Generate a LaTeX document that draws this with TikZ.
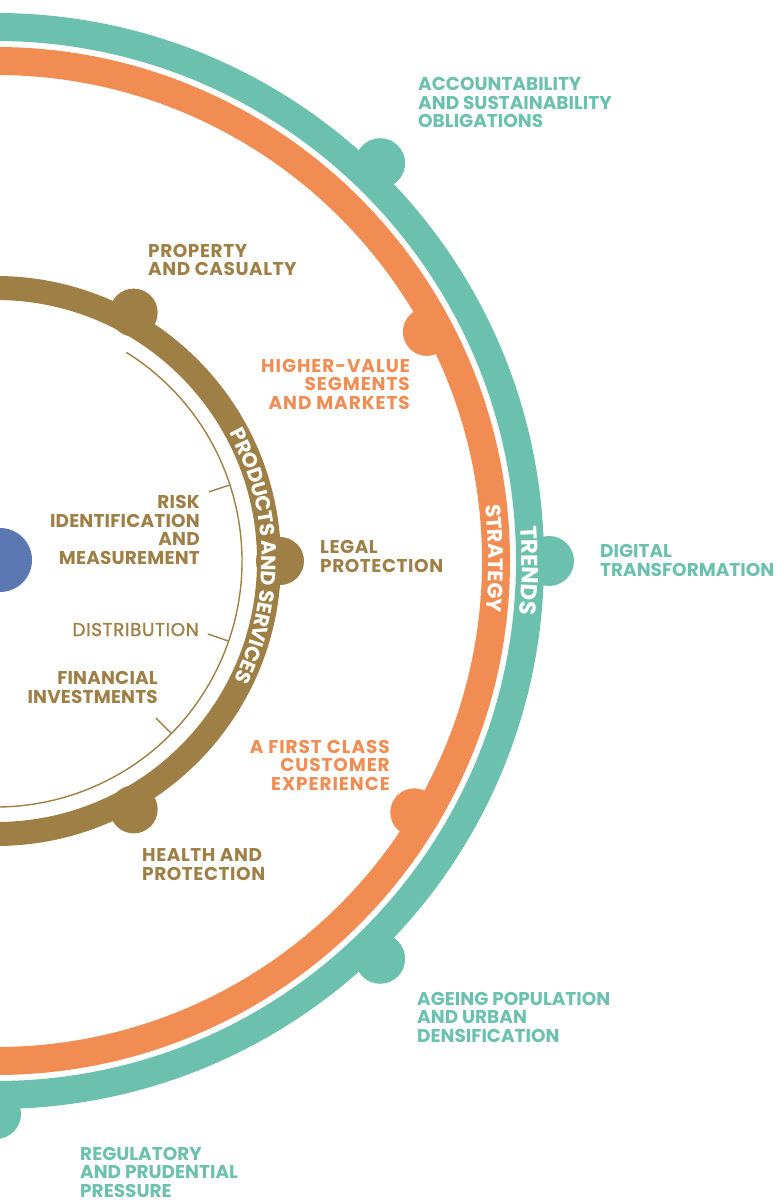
\documentclass[tikz,border=0pt]{standalone}
\usepackage{fontspec}
\setmainfont{Poppins}
\newfontfamily\goldfont{Poppins}[LetterSpace=3]
\newfontfamily\goldtight{Poppins}[LetterSpace=1]
\newfontfamily\orangefont{Poppins}[LetterSpace=5]
\newfontfamily\medfont{Poppins}[LetterSpace=3, FakeBold=1.2]
\usetikzlibrary{decorations.text}

\definecolor{ringgold}{RGB}{158,127,69}
\definecolor{ringorange}{RGB}{241,140,83}
\definecolor{ringteal}{RGB}{107,193,174}
\definecolor{coreblue}{RGB}{91,120,178}

\begin{document}
\begin{tikzpicture}[x=1pt,y=1pt,
  lbl/.style={inner sep=0pt},
  goldlbl/.style={lbl, text=ringgold, font=\fontsize{18.5}{18.5}\selectfont\goldfont\bfseries},
  chainlbl/.style={lbl, text=ringgold, font=\fontsize{18.5}{18.5}\selectfont\goldtight\bfseries},
  orangelbl/.style={lbl, text=ringorange, font=\fontsize{18.5}{18.5}\selectfont\orangefont\bfseries},
  teallbl/.style={lbl, text=ringteal, font=\fontsize{18.5}{18.5}\selectfont\bfseries},
  thinline/.style={draw=ringgold, line width=1.4pt},
  ringtext/.style={decorate, decoration={text along path, text align=center}}]
\useasboundingbox (4,-642) rectangle (781,561);
\clip (4,-642) rectangle (781,561);

% outer ring: trends
\draw[ringteal, line width=28pt] (0,0) circle[radius=534];
\foreach \a in {46,0,-46,-90} \fill[ringteal] (\a:553) circle[radius=25];

% middle ring: strategy
\draw[ringorange, line width=28pt] (0,0) circle[radius=500];
\foreach \a in {28,-31} \fill[ringorange] (\a:488) circle[radius=24];

% inner ring: products and services
\draw[ringgold, line width=24pt] (0,0) circle[radius=273];
\foreach \a in {61,0,-61} \fill[ringgold] (\a:284) circle[radius=24];

% thin arc with its dividers
\draw[thinline] (58:246) arc[start angle=58, end angle=-120, radius=246];
\foreach \a in {18,-19,-44.5} \draw[thinline] (\a:224) -- (\a:246);

% core
\fill[coreblue] (4,1) circle[radius=32];

% ring titles
\path[ringtext, decoration={text={|\fontsize{20.5}{20.5}\selectfont\bfseries\color{white}|PRODUCTS AND SERVICES}, raise=-7.2pt}]
  (41.1:273) arc[start angle=41.1, end angle=-38.9, radius=273];
\path[ringtext, decoration={text={|\fontsize{21}{21}\selectfont\bfseries\color{white}|STRATEGY}, raise=-7.3pt}]
  (20.3:500) arc[start angle=20.3, end angle=-19.7, radius=500];
\path[ringtext, decoration={text={|\fontsize{23}{23}\selectfont\bfseries\color{white}|TRENDS}, raise=-8pt}]
  (19:534) arc[start angle=19, end angle=-21, radius=534];

% products and services
\node[goldlbl, anchor=base west, align=left] (property) at (152,285) {PROPERTY\\AND CASUALTY};
\node[goldlbl, anchor=base west, align=left] (legal) at (324,-11) {LEGAL\\PROTECTION};
\node[goldlbl, anchor=base west, align=left] (health) at (146,-319) {HEALTH AND\\PROTECTION};

% value chain
\node[chainlbl, anchor=base east, align=right] (risk) at (204,-3) {RISK\\IDENTIFICATION\\AND\\MEASUREMENT};
\node[goldlbl, anchor=base east, align=right, font=\fontsize{18.5}{18.5}\selectfont\medfont] (distribution) at (203,-75) {DISTRIBUTION};
\node[chainlbl, anchor=base east, align=right] (financial) at (162,-142) {FINANCIAL\\INVESTMENTS};

% strategy
\node[orangelbl, anchor=base east, align=right] (highervalue) at (414,152) {HIGHER-VALUE\\SEGMENTS\\AND MARKETS};
\node[orangelbl, anchor=base east, align=right] (firstclass) at (394,-229) {A FIRST CLASS\\CUSTOMER\\EXPERIENCE};

% trends
\node[teallbl, anchor=base west, align=left] (accountability) at (422,433) {ACCOUNTABILITY\\AND SUSTAINABILITY\\OBLIGATIONS};
\node[teallbl, anchor=base west, align=left] (digital) at (604,-15) {DIGITAL\\TRANSFORMATION};
\node[teallbl, anchor=base west, align=left] (ageing) at (421,-481) {AGEING POPULATION\\AND URBAN\\DENSIFICATION};
\node[teallbl, anchor=base west, align=left] (regulatory) at (84,-636) {REGULATORY\\AND PRUDENTIAL\\PRESSURE};
\end{tikzpicture}
\end{document}
